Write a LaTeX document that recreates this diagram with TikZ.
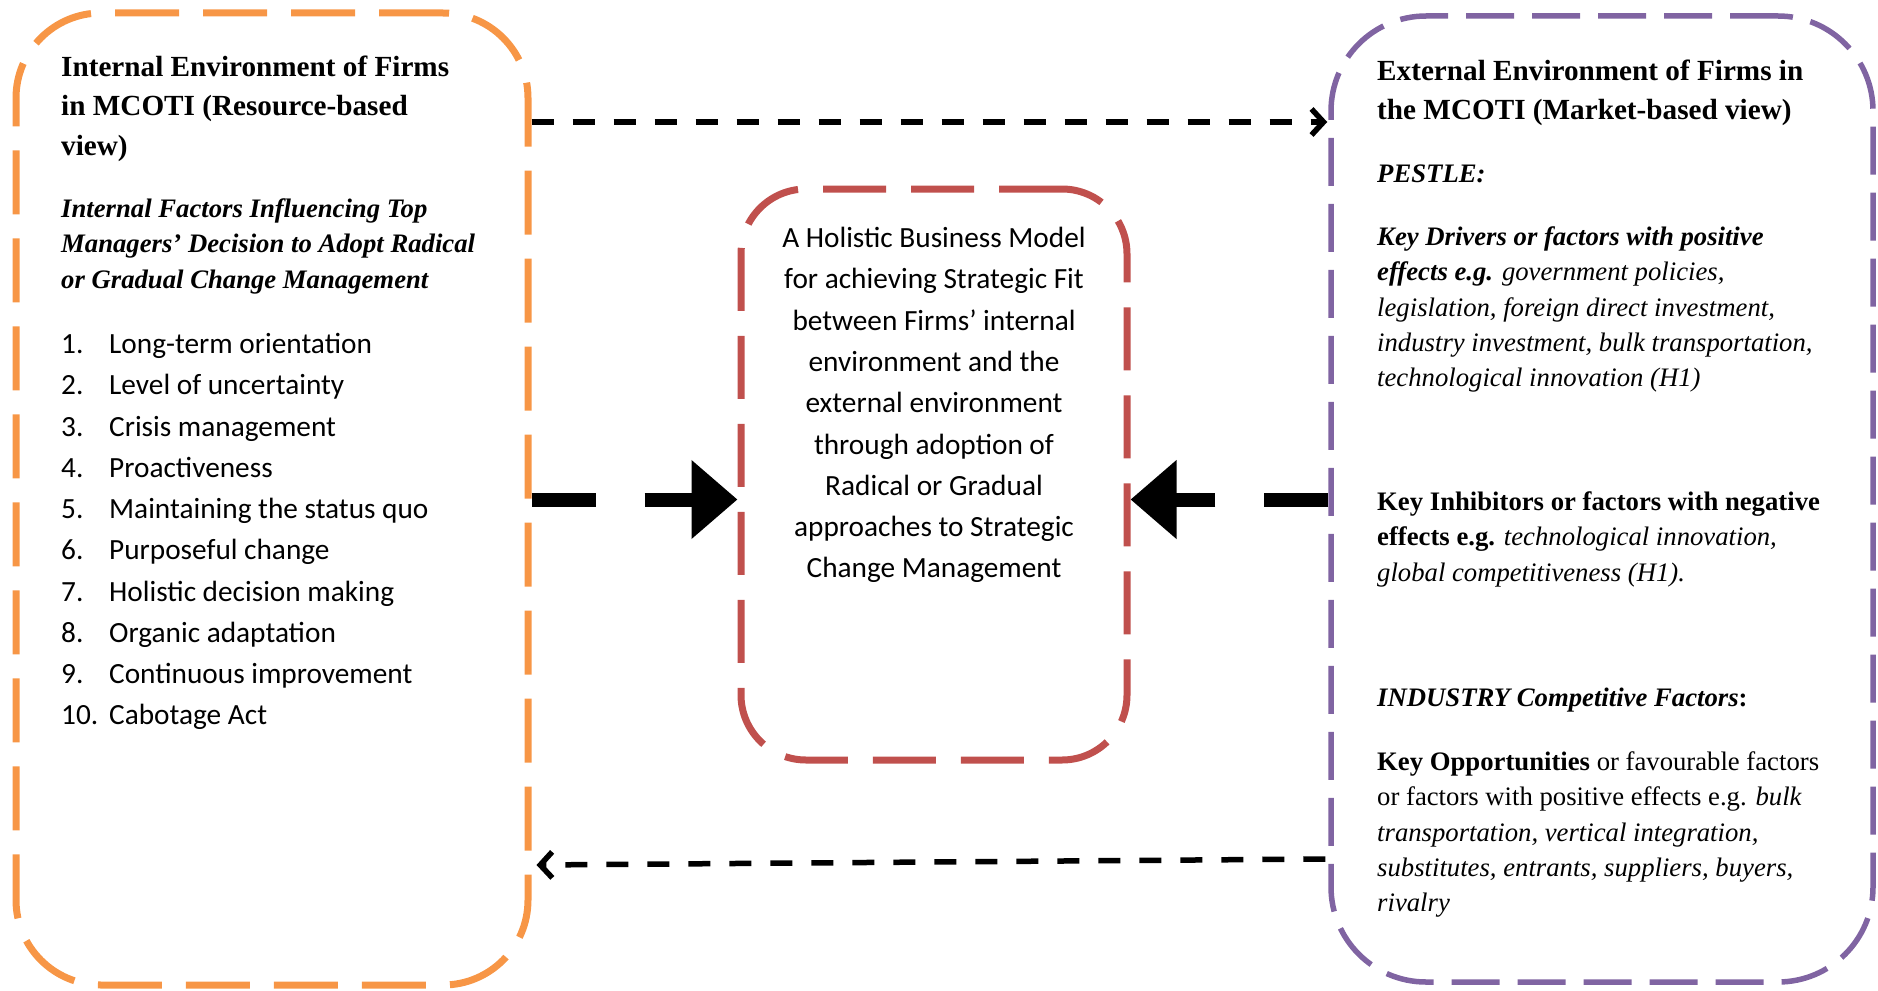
\documentclass[tikz,border=0pt]{standalone}
\usepackage{fontspec}
\setmainfont{Liberation Serif}
\newfontfamily\calibri{Carlito}
\usetikzlibrary{arrows.meta}
\definecolor{boxorange}{HTML}{F79646}
\definecolor{boxred}{HTML}{C0504D}
\definecolor{boxpurple}{HTML}{8064A2}
\tikzset{
 boxbase/.style={draw, inner sep=0pt},
 titletext/.style={anchor=base west, inner sep=0pt, align=left, font=\fontsize{29.2pt}{39.3pt}\selectfont\bfseries},
 bodytext/.style={anchor=base west, inner sep=0pt, align=left, font=\fontsize{26.7pt}{35.3pt}\selectfont},
 listtext/.style={anchor=base west, inner sep=0pt, align=left, font=\calibri\fontsize{29.3pt}{41.25pt}\selectfont},
 centertext/.style={anchor=base, inner sep=0pt, align=center, font=\calibri\fontsize{29.3pt}{41.3pt}\selectfont},
 thinarrow/.style={line width=5.5pt, dash pattern=on 22pt off 19pt, -{Straight Barb[length=12pt,width=26pt]}},
 thickarrow/.style={line width=14pt, dash pattern=on 64pt off 49pt, -{Triangle[length=46pt,width=76pt]}},
}
\begin{document}
\begin{tikzpicture}[x=1pt,y=-1pt]
\useasboundingbox (0,0) rectangle (1878,990);
% boxes
\node[boxbase, draw=boxorange, line width=7pt, rounded corners=85pt, dash pattern=on 64pt off 24pt, minimum width=512pt, minimum height=972pt] (internal) at (272,499) {};
\node[boxbase, draw=boxred, line width=7pt, rounded corners=65pt, dash pattern=on 63pt off 25pt, minimum width=386pt, minimum height=571pt] (model) at (934,474.5) {};
\node[boxbase, draw=boxpurple, line width=5.5pt, rounded corners=95pt, dash pattern=on 48pt off 18pt, minimum width=542pt, minimum height=966pt] (external) at (1602,499) {};
% left texts (anchored at baseline of last line)
\node[titletext] (ltitle) at (61,155) {Internal Environment of Firms\\in MCOTI (Resource-based\\view)};
\node[bodytext, font=\fontsize{26.7pt}{35.4pt}\selectfont\bfseries\itshape] (lsub) at (61,288.3) {Internal Factors Influencing Top\\Managers’ Decision to Adopt Radical\\or Gradual Change Management};
\node[listtext] (list) at (61,724.8) {\makebox[48pt][l]{1.}Long-term orientation\\
\makebox[48pt][l]{2.}Level of uncertainty\\
\makebox[48pt][l]{3.}Crisis management\\
\makebox[48pt][l]{4.}Proactiveness\\
\makebox[48pt][l]{5.}Maintaining the status quo\\
\makebox[48pt][l]{6.}Purposeful change\\
\makebox[48pt][l]{7.}Holistic decision making\\
\makebox[48pt][l]{8.}Organic adaptation\\
\makebox[48pt][l]{9.}Continuous improvement\\
\makebox[48pt][l]{10.}Cabotage Act};
% center text
\node[centertext] (ctext) at (934,577.9) {A Holistic Business Model\\for achieving Strategic Fit\\between Firms’ internal\\environment and the\\external environment\\through adoption of\\Radical or Gradual\\approaches to Strategic\\Change Management};
% right texts
\node[titletext] (rtitle) at (1377,119.8) {External Environment of Firms in\\the MCOTI (Market-based view)};
\node[bodytext] (pestle) at (1377,182.5) {\textbf{\textit{PESTLE:}}};
\node[bodytext] (drivers) at (1377,386.7) {\textbf{\textit{Key Drivers or factors with positive}}\\\textbf{\textit{effects e.g.}} \textit{government policies,}\\\textit{legislation, foreign direct investment,}\\\textit{industry investment, bulk transportation,}\\\textit{technological innovation (H1)}};
\node[bodytext] (inhib) at (1377,581.1) {\textbf{Key Inhibitors or factors with negative}\\\textbf{effects e.g.} \textit{technological innovation,}\\\textit{global competitiveness (H1).}};
\node[bodytext] (industry) at (1377,706.5) {\textbf{\textit{INDUSTRY Competitive Factors}:}};
\node[bodytext] (opps) at (1377,911.7) {\textbf{Key Opportunities} or favourable factors\\or factors with positive effects e.g. \textit{bulk}\\\textit{transportation, vertical integration,}\\\textit{substitutes, entrants, suppliers, buyers,}\\\textit{rivalry}};
% connectors
\coordinate (t1) at (internal.east |- 0,122);
\coordinate (t2) at ([xshift=-1pt]external.west |- 0,122);
\draw[thinarrow] (t1) -- (t2);
\coordinate (b1) at ([xshift=-3pt]external.west |- 0,859);
\coordinate (b2) at ([xshift=5pt]internal.east |- 0,865);
\draw[thinarrow] (b1) -- (b2);
\coordinate (m1) at (internal.east |- 0,499.5);
\coordinate (m2) at (external.west |- 0,499.5);
\draw[thickarrow] (m1) -- (model.west |- m1);
\draw[thickarrow] (m2) -- (model.east |- m2);
\end{tikzpicture}
\end{document}
